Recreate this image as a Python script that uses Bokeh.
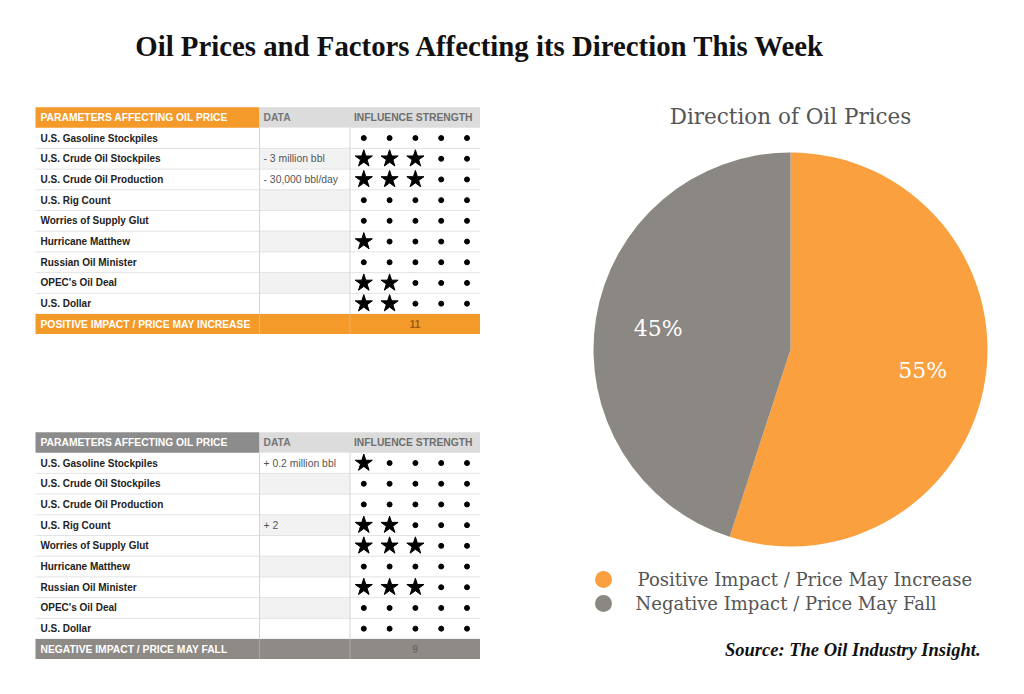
from bokeh.plotting import figure
from bokeh.models import Range1d
from bokeh.core.properties import value
from bokeh.embed import file_html
from bokeh.resources import INLINE
import math

# ---------------- data ----------------
title = "Oil Prices and Factors Affecting its Direction This Week"
params = ["U.S. Gasoline Stockpiles", "U.S. Crude Oil Stockpiles", "U.S. Crude Oil Production",
          "U.S. Rig Count", "Worries of Supply Glut", "Hurricane Matthew",
          "Russian Oil Minister", "OPEC's Oil Deal", "U.S. Dollar"]
headers = ["PARAMETERS AFFECTING OIL PRICE", "DATA", "INFLUENCE STRENGTH"]
pos_data = ["", "- 3 million bbl", "- 30,000 bbl/day", "", "", "", "", "", ""]
pos_stars = [0, 3, 3, 0, 0, 1, 0, 2, 2]
neg_data = ["+ 0.2 million bbl", "", "", "+ 2", "", "", "", "", ""]
neg_stars = [1, 0, 0, 2, 3, 0, 3, 0, 0]
footers = ["POSITIVE IMPACT / PRICE MAY INCREASE", "NEGATIVE IMPACT / PRICE MAY FALL"]
max_strength = 5
pie_title = "Direction of Oil Prices"
pie_labels = ["Positive Impact / Price May Increase", "Negative Impact / Price May Fall"]
pie_values = [55, 45]
source = "Source: The Oil Industry Insight."

# ---------------- styles ----------------
ORANGE = "#F39A2B"
PIE_ORANGE = "#FBA03F"
PIE_GRAY = "#8B8782"
GRAY_HDR = "#8C8C8C"
GRAY_FOOT = "#8E8A86"
LIGHT_HDR = "#DCDCDC"
SANS = "Liberation Sans"
SERIF = "Liberation Serif"
TYPE = "DejaVu Serif"

W, H = 1008, 678
p = figure(width=W, height=H, x_range=Range1d(0, W), y_range=Range1d(0, H),
           output_backend="svg", toolbar_location=None, min_border=0)
p.axis.visible = False
p.grid.visible = False
p.outline_line_color = None
p.background_fill_color = "white"


def Y(img_y):
    return H - img_y


p.text(x=[480], y=[Y(45)], text=[title], text_font=value(SERIF), text_font_style="bold",
       text_font_size=value("28.8px"), text_align="center", text_baseline="middle", text_color="#111111")

# table geometry
cols = [35, 259, 349.5, 479.5]
hdr_h = 20.5
row_h = 20.7
foot_h = 20
star_x0 = 363.3
star_dx = 25.8


def draw_table(top, data, stars, footer, first_color, foot_color, total_color):
    n = len(params)
    # header cells
    p.quad(left=[cols[0], cols[1], cols[2]], right=[cols[1], cols[2], cols[3]],
           top=[Y(top)] * 3, bottom=[Y(top + hdr_h)] * 3,
           fill_color=[first_color, LIGHT_HDR, LIGHT_HDR], line_color=None)
    p.text(x=[cols[0] + 5, cols[1] + 4, cols[2] + 4], y=[Y(top + hdr_h / 2)] * 3, text=headers,
           text_font=value(SANS), text_font_style="bold", text_font_size=value("10.3px"),
           text_baseline="middle", text_color=["white", "#777777", "#6E6E6E"])
    # rows
    tops = [top + hdr_h + i * row_h for i in range(n)]
    shade = ["#FFFFFF" if i % 2 == 0 else "#F2F2F2" for i in range(n)]
    p.quad(left=[cols[1]] * n, right=[cols[2]] * n, top=[Y(t) for t in tops],
           bottom=[Y(t + row_h) for t in tops], fill_color=shade, line_color=None)
    p.segment(x0=[cols[0]] * n, x1=[cols[3]] * n, y0=[Y(t + row_h) for t in tops],
              y1=[Y(t + row_h) for t in tops], line_color="#E3E3E3", line_width=1)
    bottom_rows = top + hdr_h + n * row_h
    p.segment(x0=[cols[1], cols[2]], x1=[cols[1], cols[2]], y0=[Y(top + hdr_h)] * 2,
              y1=[Y(bottom_rows)] * 2, line_color="#D6D6D6", line_width=1)
    cy = [Y(t + row_h / 2) for t in tops]
    p.text(x=[cols[0] + 5] * n, y=cy, text=params, text_font=value(SANS), text_font_style="bold",
           text_font_size=value("10px"), text_baseline="middle", text_color="#222222")
    p.text(x=[cols[1] + 4] * n, y=cy, text=data, text_font=value(SANS),
           text_font_size=value("10.4px"), text_baseline="middle", text_color="#555555")
    sx, sy, dx, dy = [], [], [], []
    for i, s in enumerate(stars):
        for k in range(max_strength):
            if k < s:
                sx.append(star_x0 + k * star_dx); sy.append(cy[i])
            else:
                dx.append(star_x0 + k * star_dx); dy.append(cy[i])
    p.scatter(x=sx, y=sy, marker="star", size=18, fill_color="black", line_color="black")
    p.scatter(x=dx, y=dy, marker="circle", size=5, fill_color="black", line_color="black")
    # footer
    p.quad(left=[cols[0]], right=[cols[3]], top=[Y(bottom_rows)], bottom=[Y(bottom_rows + foot_h)],
           fill_color=foot_color, line_color=None)
    p.segment(x0=[cols[1], cols[2]], x1=[cols[1], cols[2]], y0=[Y(bottom_rows)] * 2,
              y1=[Y(bottom_rows + foot_h)] * 2, line_color="white", line_alpha=0.25, line_width=1)
    p.text(x=[cols[0] + 5], y=[Y(bottom_rows + foot_h / 2)], text=[footer], text_font=value(SANS),
           text_font_style="bold", text_font_size=value("10.3px"), text_baseline="middle",
           text_color="white")
    p.text(x=[(cols[2] + cols[3]) / 2], y=[Y(bottom_rows + foot_h / 2)], text=[str(sum(stars))],
           text_font=value(SANS), text_font_style="bold", text_font_size=value("10px"),
           text_baseline="middle", text_align="center", text_color=total_color)


draw_table(106.7, pos_data, pos_stars, footers[0], ORANGE, ORANGE, "#9A5A14")
draw_table(431.7, neg_data, neg_stars, footers[1], GRAY_HDR, GRAY_FOOT, "#6E6A66")

# pie
cx, cyy, r = 790, Y(349), 197
total = sum(pie_values)
starts, ends, mids = [], [], []
a = math.pi / 2
for v in pie_values:
    span = 2 * math.pi * v / total
    starts.append(a); ends.append(a - span); mids.append(a - span / 2)
    a -= span
p.wedge(x=[cx] * 2, y=[cyy] * 2, radius=r, start_angle=starts, end_angle=ends, direction="clock",
        fill_color=[PIE_ORANGE, PIE_GRAY], line_color=None)
p.text(x=[cx + 0.68 * r * math.cos(m) for m in mids], y=[cyy + 0.68 * r * math.sin(m) for m in mids],
       text=[f"{v}%" for v in pie_values], text_font=value(TYPE), text_font_size=value("22px"),
       text_align="center", text_baseline="middle", text_color="white")
p.text(x=[790], y=[Y(116)], text=[pie_title], text_font=value(TYPE), text_font_size=value("21.5px"),
       text_align="center", text_baseline="middle", text_color="#555555")

# legend
leg_y = [Y(579), Y(603)]
p.scatter(x=[603, 603], y=leg_y, marker="circle", size=17, fill_color=[PIE_ORANGE, PIE_GRAY],
          line_color=None)
p.text(x=[637, 635], y=leg_y, text=pie_labels, text_font=value(TYPE), text_font_size=value("18px"),
       text_baseline="middle", text_color="#555555")

p.text(x=[980], y=[Y(649)], text=[source], text_font=value(SERIF), text_font_style="bold italic",
       text_font_size=value("18.5px"), text_align="right", text_baseline="middle", text_color="#111111")

open("out.html", "w").write(file_html(p, INLINE))
